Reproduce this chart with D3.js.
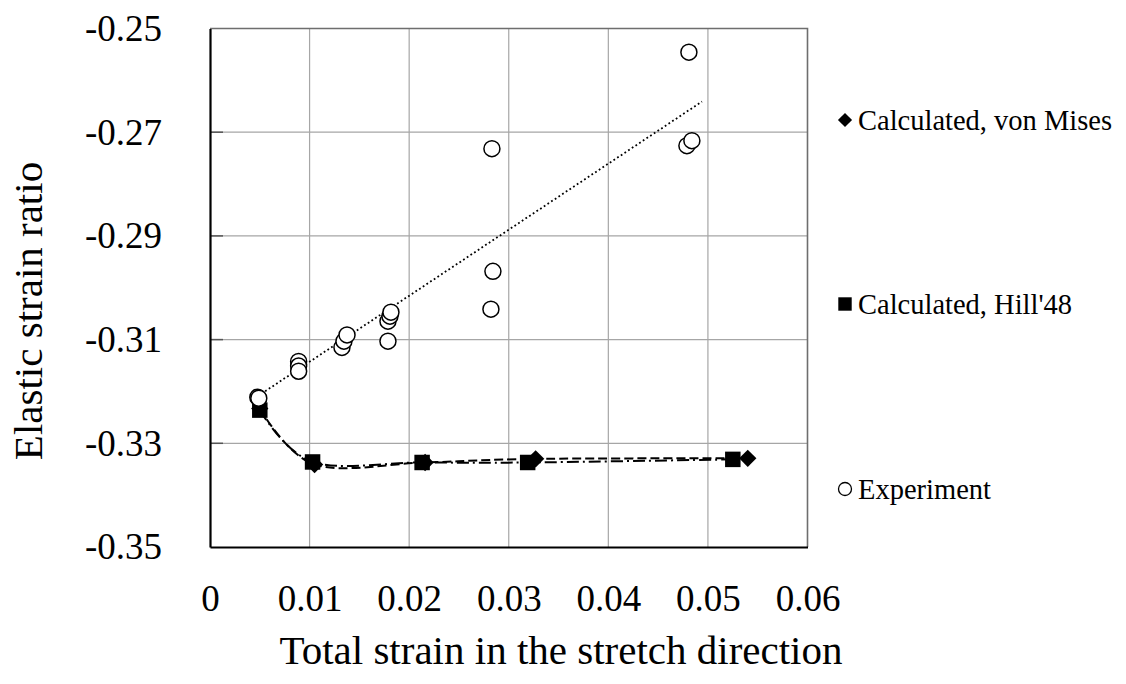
<!DOCTYPE html>
<html>
<head>
<meta charset="utf-8">
<script src="https://cdn.jsdelivr.net/npm/d3@7"></script>
<style>
  html, body { margin: 0; padding: 0; background: #fff; }
  svg { display: block; }
</style>
</head>
<body>
<svg id="chart" width="1126" height="684" font-family="Liberation Serif, serif"></svg>
<script>
// Axis ticks
const xTicks = [0, 0.01, 0.02, 0.03, 0.04, 0.05, 0.06];
const yTicks = [-0.35, -0.33, -0.31, -0.29, -0.27, -0.25];

// Calculated, von Mises
const misesX = [0.0050, 0.0105, 0.0216, 0.0327, 0.0540];
const misesY = [-0.3233, -0.3341, -0.3337, -0.3330, -0.3329];

// Calculated, Hill'48
const hillX = [0.0050, 0.0103, 0.0213, 0.0319, 0.0525];
const hillY = [-0.3236, -0.3336, -0.3337, -0.3337, -0.3331];

// Experiment
const expX = [0.0048, 0.0049, 0.0089, 0.0089, 0.0089, 0.01325, 0.01345, 0.01376,
              0.01787, 0.01787, 0.01807, 0.01817, 0.02831, 0.02841, 0.02821,
              0.04809, 0.04789, 0.04839];
const expY = [-0.3211, -0.3213, -0.3142, -0.3151, -0.3161, -0.3115, -0.3103, -0.3091,
              -0.3103, -0.30644, -0.30548, -0.30471, -0.27317, -0.29683, -0.30413,
              -0.25456, -0.27260, -0.27163];

// Linear trend of the experiment (end points)
const trendX = [0.0048, 0.0494];
const trendY = [-0.3209, -0.2641];

const legendLabels = ["Calculated, von Mises", "Calculated, Hill'48", "Experiment"];

(function () {
  const FONT = "Liberation Serif, serif";
  const svg = d3.select("#chart");
  const pLeft = 210, pRight = 807.5, pTop = 28.5, pBottom = 547;

  const x = d3.scaleLinear().domain([0, 0.06]).range([pLeft, pRight]);
  const y = d3.scaleLinear().domain([-0.35, -0.25]).range([pBottom, pTop]);

  const zip = (xs, ys) => xs.map((v, i) => [v, ys[i]]);
  const fmt = d => d === 0 ? "0" : d3.format(".2f")(d).replace("\u2212", "-");

  // Grid
  const grid = svg.append("g").attr("stroke", "#a6a6a6").attr("stroke-width", 1.2);
  grid.selectAll("line.v").data(xTicks.slice(1, -1)).join("line").attr("class", "v")
    .attr("x1", d => x(d)).attr("x2", d => x(d))
    .attr("y1", pTop).attr("y2", pBottom);
  grid.selectAll("line.h").data(yTicks.slice(1, -1)).join("line").attr("class", "h")
    .attr("x1", pLeft).attr("x2", pRight)
    .attr("y1", d => y(d)).attr("y2", d => y(d));

  // Inner tick marks on the value axis
  svg.append("g").attr("stroke", "#555").attr("stroke-width", 1.5)
    .selectAll("line").data(yTicks.slice(1, -1)).join("line")
    .attr("x1", pLeft).attr("x2", pLeft + 13)
    .attr("y1", d => y(d)).attr("y2", d => y(d));

  // Frame: top and right border
  svg.append("path")
    .attr("d", `M${pLeft},${pTop}H${pRight}V${pBottom}`)
    .attr("fill", "none").attr("stroke", "#6e6e6e").attr("stroke-width", 1.6);

  // Axes
  const xAxis = svg.append("g").attr("transform", `translate(0,${pBottom})`)
    .call(d3.axisBottom(x).tickValues(xTicks).tickFormat(fmt)
      .tickSize(0).tickPadding(38));
  xAxis.attr("font-family", FONT);
  xAxis.select(".domain").attr("stroke", "#000").attr("stroke-width", 2.2);
  xAxis.selectAll("text").attr("font-size", 37).attr("fill", "#000");

  const yAxis = svg.append("g").attr("transform", `translate(${pLeft},0)`)
    .call(d3.axisLeft(y).tickValues(yTicks).tickFormat(fmt)
      .tickSize(0).tickPadding(48));
  yAxis.attr("font-family", FONT);
  yAxis.select(".domain").attr("stroke", "#000").attr("stroke-width", 2.2);
  yAxis.selectAll("text").attr("font-size", 37).attr("fill", "#000");

  // Axis titles
  svg.append("text")
    .attr("x", 561).attr("y", 664)
    .attr("font-family", FONT)
    .attr("text-anchor", "middle").attr("font-size", 41)
    .text("Total strain in the stretch direction");
  svg.append("text")
    .attr("transform", "translate(42,311) rotate(-90)")
    .attr("font-family", FONT)
    .attr("text-anchor", "middle").attr("font-size", 41)
    .text("Elastic strain ratio");

  const line = d3.line().x(d => x(d[0])).y(d => y(d[1]));
  const smooth = d3.line().x(d => x(d[0])).y(d => y(d[1])).curve(d3.curveCardinal.tension(0));

  // Trend line of the experiment
  svg.append("path").datum(zip(trendX, trendY))
    .attr("d", line).attr("fill", "none")
    .attr("stroke", "#000").attr("stroke-width", 1.8).attr("stroke-dasharray", "1.8,2.6");

  // Calculated curves
  svg.append("path").datum(zip(misesX, misesY))
    .attr("d", smooth).attr("fill", "none")
    .attr("stroke", "#000").attr("stroke-width", 2).attr("stroke-dasharray", "9,4");
  svg.append("path").datum(zip(hillX, hillY))
    .attr("d", smooth).attr("fill", "none")
    .attr("stroke", "#000").attr("stroke-width", 2).attr("stroke-dasharray", "12,4,2,4");

  // Markers: diamond = square turned 45 degrees
  const square = d3.symbol().type(d3.symbolSquare).size(240);
  const diamond = d3.symbol().type(d3.symbolSquare).size(150);

  svg.append("g").selectAll("path").data(zip(misesX, misesY)).join("path")
    .attr("transform", d => `translate(${x(d[0])},${y(d[1])}) rotate(45)`)
    .attr("d", diamond).attr("fill", "#000");
  svg.append("g").selectAll("path").data(zip(hillX, hillY)).join("path")
    .attr("transform", d => `translate(${x(d[0])},${y(d[1])})`)
    .attr("d", square).attr("fill", "#000");
  svg.append("g").selectAll("circle").data(zip(expX, expY)).join("circle")
    .attr("cx", d => x(d[0])).attr("cy", d => y(d[1])).attr("r", 8)
    .attr("fill", "#fff").attr("stroke", "#000").attr("stroke-width", 1.5);

  // Legend
  const legendY = [120, 304, 489];
  const lg = svg.append("g");
  lg.append("path").attr("transform", `translate(845,${legendY[0]}) rotate(45)`)
    .attr("d", d3.symbol().type(d3.symbolSquare).size(100)).attr("fill", "#000");
  lg.append("path").attr("transform", `translate(845,${legendY[1]})`)
    .attr("d", d3.symbol().type(d3.symbolSquare).size(180)).attr("fill", "#000");
  lg.append("circle").attr("cx", 845).attr("cy", legendY[2]).attr("r", 6.5)
    .attr("fill", "#fff").attr("stroke", "#000").attr("stroke-width", 1.3);
  lg.selectAll("text").data(legendLabels).join("text")
    .attr("x", 858).attr("y", (d, i) => legendY[i] + 9.5)
    .attr("font-family", FONT)
    .attr("font-size", 28.5).text(d => d);
})();
</script>
</body>
</html>
